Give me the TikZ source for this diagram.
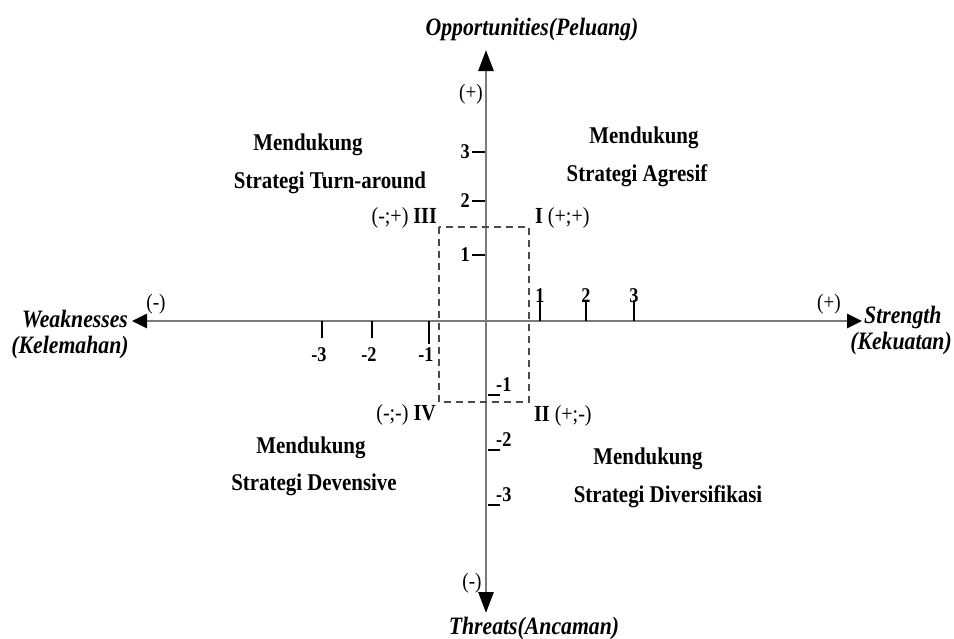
\documentclass[tikz,border=0pt]{standalone}
\usepackage{fontspec}
\setmainfont{Liberation Serif}[FakeStretch=0.87]
\usetikzlibrary{arrows.meta}
\definecolor{axisgray}{HTML}{7A7A7A}
\definecolor{boxgray}{HTML}{4A4A4A}
\begin{document}
\begin{tikzpicture}[x=1pt,y=-1pt,
  axisline/.style={draw=axisgray,line width=2.8pt},
  harrow/.style={-{Triangle[length=15pt,width=14pt,color=black]}},
  varrow/.style={-{Triangle[length=21pt,width=15pt,color=black]}},
  tickline/.style={draw=black,line width=1.3pt},
  dashbox/.style={draw=boxgray,line width=2.8pt,dash pattern=on 7pt off 5pt},
  qtext/.style={font=\fontsize{24}{26}\selectfont\bfseries,inner sep=0pt,anchor=base},
  atext/.style={font=\fontsize{25}{27}\selectfont\bfseries\itshape,inner sep=0pt,anchor=base},
  sign/.style={font=\fontsize{22}{24}\selectfont,inner sep=0pt,anchor=base},
  num/.style={font=\fontsize{21}{23}\selectfont\bfseries,inner sep=0pt,anchor=base},
  roman/.style={font=\fontsize{23}{25}\selectfont,inner sep=0pt,anchor=base}]
\useasboundingbox[fill=white] (0,0) rectangle (954,638);

% axis ends
\coordinate (O) at (486,321);
\coordinate (W) at (132,321);
\coordinate (E) at (862,321);
\coordinate (N) at (486,50);
\coordinate (S) at (486,613);

\draw[axisline,harrow] (O) -- (W);
\draw[axisline,harrow] (O) -- (E);
\draw[axisline,varrow] (O) -- (N);
\draw[axisline,varrow] (O) -- (S);

% dashed box
\coordinate (B1) at (439,227);
\coordinate (B2) at (529,402);
\draw[dashbox] (B1) rectangle (B2);

% x ticks positive
\foreach \x/\l/\t in {540/1/297,586/2/300,634/3/300}{
  \coordinate (xt\l) at (\x,\t);
  \coordinate (xb\l) at (\x,321);
  \draw[tickline] (xt\l) -- (xb\l);
  \node[num] (xl\l) at (\x,302) {\l};
}
% x ticks negative
\foreach \x/\l/\b in {322/3/338,372/2/338,429/1/344}{
  \coordinate (xnt\l) at (\x,321);
  \coordinate (xnb\l) at (\x,\b);
  \draw[tickline] (xnt\l) -- (xnb\l);
  \node[num] (xnl\l) at (\x-3,361) {-\l};
}
% y ticks positive
\foreach \y/\l in {152/3,201/2,255/1}{
  \coordinate (ytl\l) at (472,\y);
  \coordinate (ytr\l) at (485,\y);
  \draw[tickline] (ytl\l) -- (ytr\l);
  \node[num,anchor=east] (yl\l) at (470,\y) {\l};
}
% y ticks negative
\foreach \y/\l in {395/1,450/2,505/3}{
  \coordinate (ynl\l) at (488,\y);
  \coordinate (ynr\l) at (500,\y);
  \draw[tickline] (ynl\l) -- (ynr\l);
  \node[num,anchor=west] (ynn\l) at (496,\y-10) {-\l};
}

% signs
\node[sign] (sT) at (471,99) {(+)};
\node[sign] (sB) at (472,588) {(-)};
\node[sign] (sL) at (156,309) {(-)};
\node[sign] (sR) at (829,309) {(+)};

% axis labels
\node[atext] (opp) at (532,35) {Opportunities(Peluang)};
\node[atext] (thr) at (534,634) {Threats(Ancaman)};
\node[atext] (wk1) at (75,327) {Weaknesses};
\node[atext] (wk2) at (70,353) {(Kelemahan)};
\node[atext,anchor=base west] (st1) at (864,323) {Strength};
\node[atext,anchor=base east] (st2) at (952,349) {(Kekuatan)};

% quadrant roman labels
\node[roman,anchor=base east] (q3) at (437,223) {(-;+) \textbf{III}};
\node[roman,anchor=base west] (q1) at (535,223) {\textbf{I} (+;+)};
\node[roman,anchor=base east] (q4) at (436,420) {(-;-) \textbf{IV}};
\node[roman,anchor=base west] (q2) at (534,421) {\textbf{II} (+;-)};

% quadrant descriptions
\node[qtext] (m3) at (308,150) {Mendukung};
\node[qtext] (s3) at (330,188) {Strategi Turn-around};
\node[qtext] (m1) at (644,143) {Mendukung};
\node[qtext] (s1) at (637,181) {Strategi Agresif};
\node[qtext] (m4) at (311,453) {Mendukung};
\node[qtext] (s4) at (314,490) {Strategi Devensive};
\node[qtext] (m2) at (648,464) {Mendukung};
\node[qtext] (s2) at (668,502) {Strategi Diversifikasi};
\end{tikzpicture}
\end{document}
